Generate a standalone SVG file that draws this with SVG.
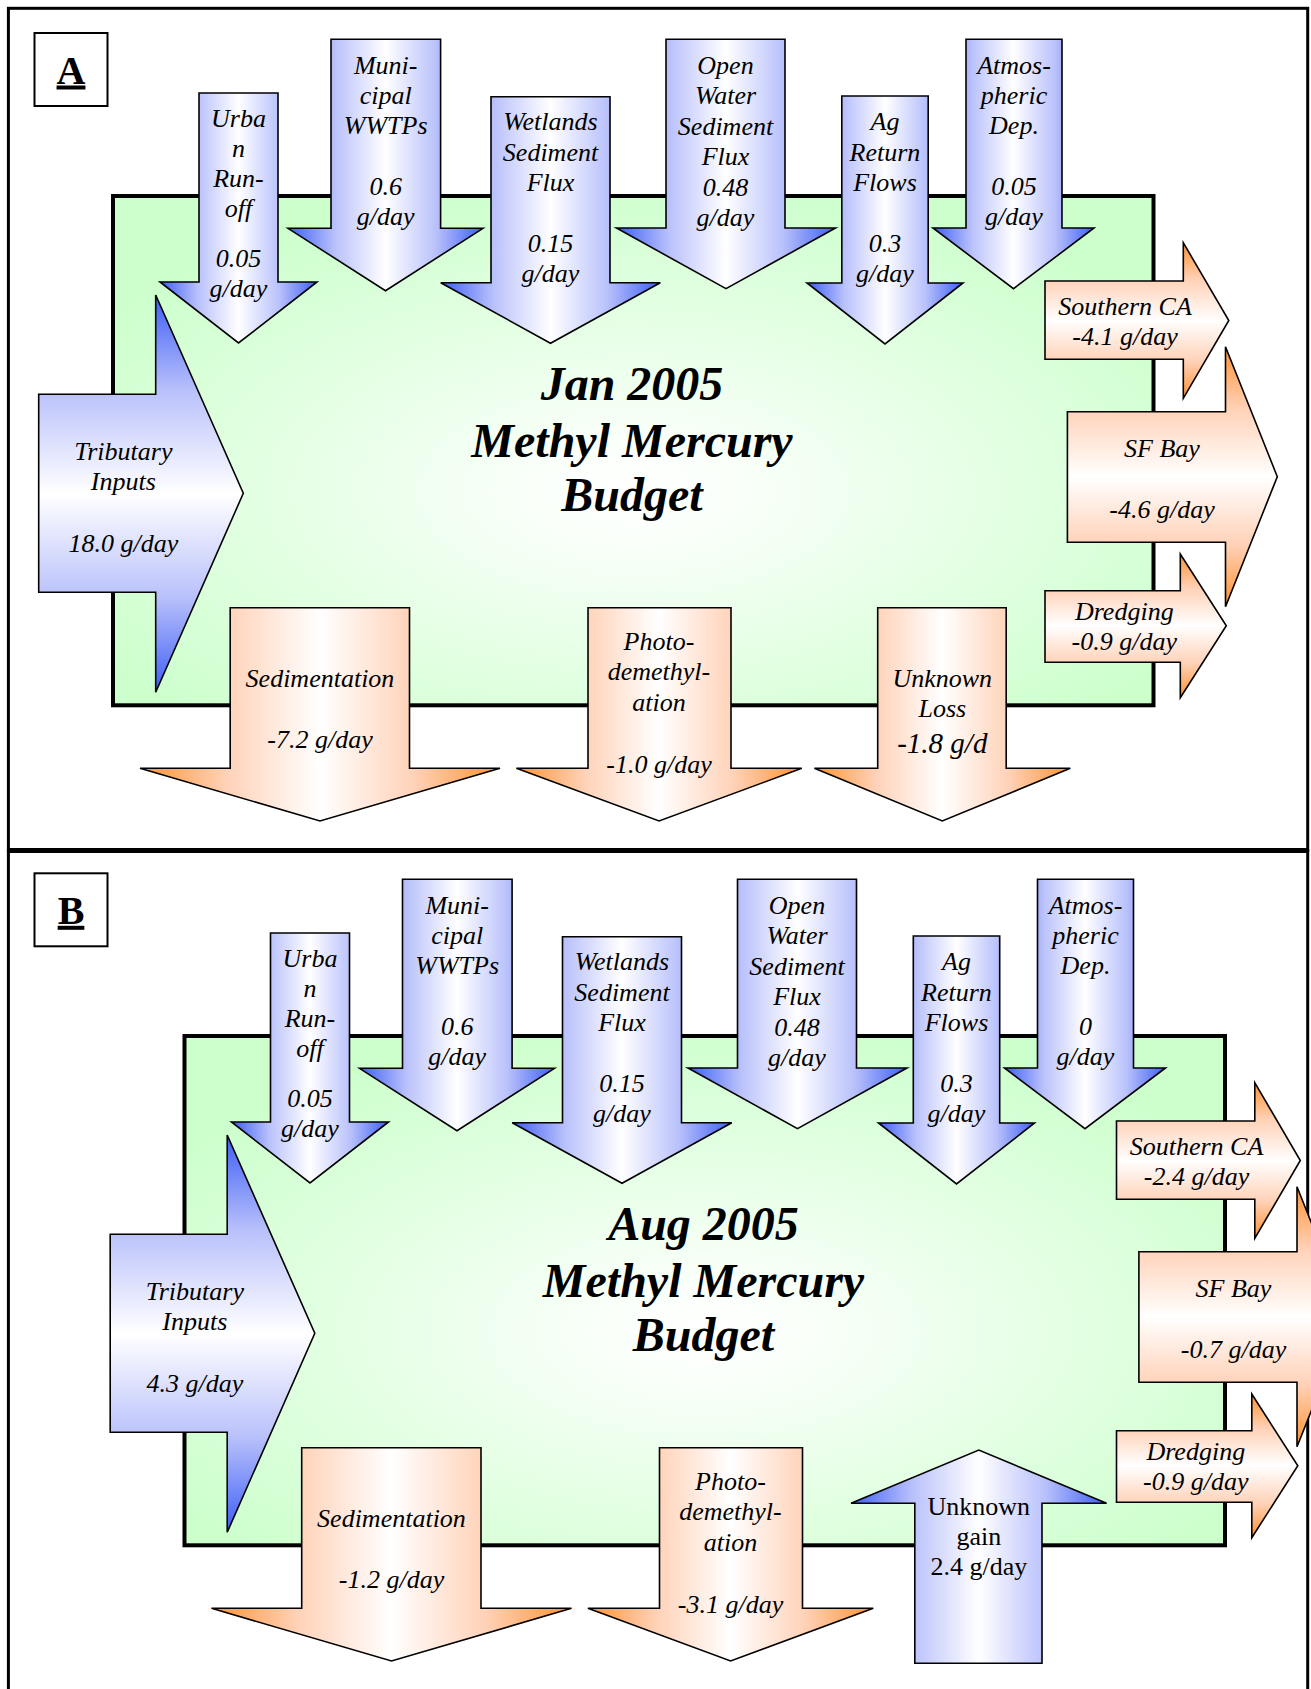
<svg xmlns="http://www.w3.org/2000/svg" width="1311" height="1689" viewBox="0 0 1311 1689">
<defs>
<linearGradient id="bH" x1="0" y1="0" x2="1" y2="0">
<stop offset="0" stop-color="#3d5ef5"/><stop offset="0.24" stop-color="#b9c1fb"/><stop offset="0.5" stop-color="#ffffff"/><stop offset="0.76" stop-color="#b9c1fb"/><stop offset="1" stop-color="#3d5ef5"/>
</linearGradient>
<linearGradient id="bV" x1="0" y1="0" x2="0" y2="1">
<stop offset="0" stop-color="#3d5ef5"/><stop offset="0.24" stop-color="#b9c1fb"/><stop offset="0.5" stop-color="#ffffff"/><stop offset="0.76" stop-color="#b9c1fb"/><stop offset="1" stop-color="#3d5ef5"/>
</linearGradient>
<linearGradient id="oH" x1="0" y1="0" x2="1" y2="0">
<stop offset="0" stop-color="#ff9233"/><stop offset="0.24" stop-color="#ffd2b8"/><stop offset="0.5" stop-color="#ffffff"/><stop offset="0.76" stop-color="#ffd2b8"/><stop offset="1" stop-color="#ff9233"/>
</linearGradient>
<linearGradient id="oV" x1="0" y1="0" x2="0" y2="1">
<stop offset="0" stop-color="#ff9233"/><stop offset="0.24" stop-color="#ffd2b8"/><stop offset="0.5" stop-color="#ffffff"/><stop offset="0.76" stop-color="#ffd2b8"/><stop offset="1" stop-color="#ff9233"/>
</linearGradient>
<radialGradient id="gR" cx="0.5" cy="0.58" r="0.62">
<stop offset="0" stop-color="#ffffff"/><stop offset="0.15" stop-color="#fafffa"/><stop offset="1" stop-color="#ccffcc"/>
</radialGradient>
<style>
.frame{fill:none;stroke:#000;stroke-width:3}
.lbl{fill:#fff;stroke:#000;stroke-width:2}
.lt{font-family:"Liberation Serif","Times New Roman",serif;font-weight:bold;font-size:40px;text-anchor:middle;text-decoration:underline}
.pool{fill:url(#gR);stroke:#000;stroke-width:4}
.ar{stroke:#000;stroke-width:1.6;stroke-linejoin:miter}
.bh{fill:url(#bH)}.bv{fill:url(#bV)}.oh{fill:url(#oH)}.ov{fill:url(#oV)}
.t{font-family:"Liberation Serif","Times New Roman",serif;font-style:italic;font-size:26px;text-anchor:middle;fill:#000}
.big{font-size:29px}
.up{font-style:normal}
.title{font-family:"Liberation Serif","Times New Roman",serif;font-style:italic;font-weight:bold;font-size:48px;text-anchor:middle;fill:#000}
</style>
</defs>
<rect width="1311" height="1689" fill="#fff"/>
<g id="frames">
<rect class="frame" x="8.4" y="8.3" width="1299.3" height="842"/>
<rect class="frame" x="8.4" y="850.5" width="1299.3" height="900"/>
<line x1="7" y1="850.5" x2="1309" y2="850.5" stroke="#000" stroke-width="5"/>
</g>
<g id="labelA"><rect class="lbl" x="34.5" y="33" width="73" height="73"/><text class="lt" x="71" y="83.5">A</text></g>
<g id="labelB"><rect class="lbl" x="34.5" y="873.3" width="73" height="73"/><text class="lt" x="71" y="923.8">B</text></g>

<g id="panelA">
<g id="poolA"><rect class="pool" x="113" y="196" width="1040.5" height="509.3"/>
<text class="title"><tspan x="632" y="400">Jan 2005</tspan><tspan x="632" y="456.5">Methyl Mercury</tspan><tspan x="632" y="511">Budget</tspan></text></g>
<g id="A-urban"><polygon class="ar bh" points="199,93 278,93 278,282 317,282 238.5,343 160,282 199,282"/>
<text class="t"><tspan x="238.5" y="127">Urba</tspan><tspan x="238.5" y="157">n</tspan><tspan x="238.5" y="187">Run-</tspan><tspan x="238.5" y="217">off</tspan><tspan x="238.5" y="267">0.05</tspan><tspan x="238.5" y="297">g/day</tspan></text></g>
<g id="A-municipal"><polygon class="ar bh" points="331,39.3 440.6,39.3 440.6,228.3 483,228.3 385.5,290.7 288,228.3 331,228.3"/>
<text class="t"><tspan x="385.7" y="73.5">Muni-</tspan><tspan x="385.7" y="103.5">cipal</tspan><tspan x="385.7" y="133.5">WWTPs</tspan><tspan x="385.7" y="194.5">0.6</tspan><tspan x="385.7" y="224.5">g/day</tspan></text></g>
<g id="A-wetlands"><polygon class="ar bh" points="491,96.7 610,96.7 610,282.7 660.3,282.7 550.5,343.3 440.7,282.7 491,282.7"/>
<text class="t"><tspan x="550.5" y="130">Wetlands</tspan><tspan x="550.5" y="160.5">Sediment</tspan><tspan x="550.5" y="191">Flux</tspan><tspan x="550.5" y="251.5">0.15</tspan><tspan x="550.5" y="281.5">g/day</tspan></text></g>
<g id="A-openwater"><polygon class="ar bh" points="666,39.3 785,39.3 785,228 835.5,228 726,288.7 616.5,228 666,228"/>
<text class="t"><tspan x="725.5" y="73.5">Open</tspan><tspan x="725.5" y="103.5">Water</tspan><tspan x="725.5" y="134.5">Sediment</tspan><tspan x="725.5" y="164.5">Flux</tspan><tspan x="725.5" y="195.5">0.48</tspan><tspan x="725.5" y="225.5">g/day</tspan></text></g>
<g id="A-ag"><polygon class="ar bh" points="841.8,96 928.2,96 928.2,283 963,283 885,344 807,283 841.8,283"/>
<text class="t"><tspan x="885" y="130">Ag</tspan><tspan x="885" y="160.5">Return</tspan><tspan x="885" y="190.5">Flows</tspan><tspan x="885" y="252">0.3</tspan><tspan x="885" y="281.5">g/day</tspan></text></g>
<g id="A-atmos"><polygon class="ar bh" points="966,39.3 1062,39.3 1062,228 1094,228 1013.5,288.7 933,228 966,228"/>
<text class="t"><tspan x="1014" y="73.5">Atmos-</tspan><tspan x="1014" y="103.5">pheric</tspan><tspan x="1014" y="133.5">Dep.</tspan><tspan x="1014" y="194.5">0.05</tspan><tspan x="1014" y="224.5">g/day</tspan></text></g>
<g id="A-tributary"><polygon class="ar bv" points="38.7,394.3 155.7,394.3 155.7,295 243.3,493.3 155.7,692.3 155.7,592.3 38.7,592.3"/>
<text class="t"><tspan x="123.3" y="460">Tributary</tspan><tspan x="123.3" y="490">Inputs</tspan><tspan x="123.3" y="551.7">18.0 g/day</tspan></text></g>
<g id="A-southernca"><polygon class="ar ov" points="1045,281 1183.3,281 1183.3,242.7 1228.8,320.5 1183.3,398.3 1183.3,359.3 1045,359.3"/>
<text class="t"><tspan x="1125" y="315">Southern CA</tspan><tspan x="1125" y="345">-4.1 g/day</tspan></text></g>
<g id="A-sfbay"><polygon class="ar ov" points="1067.4,411.7 1225.5,411.7 1225.5,346.7 1277.3,476.7 1225.5,606.7 1225.5,542.3 1067.4,542.3"/>
<text class="t"><tspan x="1162" y="456.7">SF Bay</tspan><tspan x="1162" y="518.3">-4.6 g/day</tspan></text></g>
<g id="A-dredging"><polygon class="ar ov" points="1045,590.7 1180.3,590.7 1180.3,554 1226.3,625.8 1180.3,697.7 1180.3,662.3 1045,662.3"/>
<text class="t"><tspan x="1124.3" y="620">Dredging</tspan><tspan x="1124.3" y="650">-0.9 g/day</tspan></text></g>
<g id="A-sedimentation"><polygon class="ar oh" points="230.2,607.7 409.5,607.7 409.5,768.3 500,768.3 320,821 140,768.3 230.2,768.3"/>
<text class="t"><tspan x="320" y="687.3">Sedimentation</tspan><tspan x="320" y="748.3">-7.2 g/day</tspan></text></g>
<g id="A-photo"><polygon class="ar oh" points="588,607.7 731,607.7 731,768.3 801.8,768.3 659.1,821 516.4,768.3 588,768.3"/>
<text class="t"><tspan x="659" y="650">Photo-</tspan><tspan x="659" y="680">demethyl-</tspan><tspan x="659" y="710.7">ation</tspan><tspan x="659" y="773.3">-1.0 g/day</tspan></text></g>
<g id="A-unknownloss"><polygon class="ar oh" points="877.7,607.7 1006.2,607.7 1006.2,768.3 1070.3,768.3 942.3,821 814.4,768.3 877.7,768.3"/>
<text class="t"><tspan x="942.3" y="687.3">Unknown</tspan><tspan x="942.3" y="717.3">Loss</tspan><tspan class="big" x="942.3" y="753.3">-1.8 g/d</tspan></text></g>
</g>

<g id="panelB" transform="translate(71.5,840)">
<g id="poolB"><rect class="pool" x="113" y="196" width="1040.5" height="509.3"/>
<text class="title"><tspan x="632" y="400">Aug 2005</tspan><tspan x="632" y="456.5">Methyl Mercury</tspan><tspan x="632" y="511">Budget</tspan></text></g>
<g id="B-urban"><polygon class="ar bh" points="199,93 278,93 278,282 317,282 238.5,343 160,282 199,282"/>
<text class="t"><tspan x="238.5" y="127">Urba</tspan><tspan x="238.5" y="157">n</tspan><tspan x="238.5" y="187">Run-</tspan><tspan x="238.5" y="217">off</tspan><tspan x="238.5" y="267">0.05</tspan><tspan x="238.5" y="297">g/day</tspan></text></g>
<g id="B-municipal"><polygon class="ar bh" points="331,39.3 440.6,39.3 440.6,228.3 483,228.3 385.5,290.7 288,228.3 331,228.3"/>
<text class="t"><tspan x="385.7" y="73.5">Muni-</tspan><tspan x="385.7" y="103.5">cipal</tspan><tspan x="385.7" y="133.5">WWTPs</tspan><tspan x="385.7" y="194.5">0.6</tspan><tspan x="385.7" y="224.5">g/day</tspan></text></g>
<g id="B-wetlands"><polygon class="ar bh" points="491,96.7 610,96.7 610,282.7 660.3,282.7 550.5,343.3 440.7,282.7 491,282.7"/>
<text class="t"><tspan x="550.5" y="130">Wetlands</tspan><tspan x="550.5" y="160.5">Sediment</tspan><tspan x="550.5" y="191">Flux</tspan><tspan x="550.5" y="251.5">0.15</tspan><tspan x="550.5" y="281.5">g/day</tspan></text></g>
<g id="B-openwater"><polygon class="ar bh" points="666,39.3 785,39.3 785,228 835.5,228 726,288.7 616.5,228 666,228"/>
<text class="t"><tspan x="725.5" y="73.5">Open</tspan><tspan x="725.5" y="103.5">Water</tspan><tspan x="725.5" y="134.5">Sediment</tspan><tspan x="725.5" y="164.5">Flux</tspan><tspan x="725.5" y="195.5">0.48</tspan><tspan x="725.5" y="225.5">g/day</tspan></text></g>
<g id="B-ag"><polygon class="ar bh" points="841.8,96 928.2,96 928.2,283 963,283 885,344 807,283 841.8,283"/>
<text class="t"><tspan x="885" y="130">Ag</tspan><tspan x="885" y="160.5">Return</tspan><tspan x="885" y="190.5">Flows</tspan><tspan x="885" y="252">0.3</tspan><tspan x="885" y="281.5">g/day</tspan></text></g>
<g id="B-atmos"><polygon class="ar bh" points="966,39.3 1062,39.3 1062,228 1094,228 1013.5,288.7 933,228 966,228"/>
<text class="t"><tspan x="1014" y="73.5">Atmos-</tspan><tspan x="1014" y="103.5">pheric</tspan><tspan x="1014" y="133.5">Dep.</tspan><tspan x="1014" y="194.5">0</tspan><tspan x="1014" y="224.5">g/day</tspan></text></g>
<g id="B-tributary"><polygon class="ar bv" points="38.7,394.3 155.7,394.3 155.7,295 243.3,493.3 155.7,692.3 155.7,592.3 38.7,592.3"/>
<text class="t"><tspan x="123.3" y="460">Tributary</tspan><tspan x="123.3" y="490">Inputs</tspan><tspan x="123.3" y="551.7">4.3 g/day</tspan></text></g>
<g id="B-southernca"><polygon class="ar ov" points="1045,281 1183.3,281 1183.3,242.7 1228.8,320.5 1183.3,398.3 1183.3,359.3 1045,359.3"/>
<text class="t"><tspan x="1125" y="315">Southern CA</tspan><tspan x="1125" y="345">-2.4 g/day</tspan></text></g>
<g id="B-sfbay"><polygon class="ar ov" points="1067.4,411.7 1225.5,411.7 1225.5,346.7 1277.3,476.7 1225.5,606.7 1225.5,542.3 1067.4,542.3"/>
<text class="t"><tspan x="1162" y="456.7">SF Bay</tspan><tspan x="1162" y="518.3">-0.7 g/day</tspan></text></g>
<g id="B-dredging"><polygon class="ar ov" points="1045,590.7 1180.3,590.7 1180.3,554 1226.3,625.8 1180.3,697.7 1180.3,662.3 1045,662.3"/>
<text class="t"><tspan x="1124.3" y="620">Dredging</tspan><tspan x="1124.3" y="650">-0.9 g/day</tspan></text></g>
<g id="B-sedimentation"><polygon class="ar oh" points="230.2,607.7 409.5,607.7 409.5,768.3 500,768.3 320,821 140,768.3 230.2,768.3"/>
<text class="t"><tspan x="320" y="687.3">Sedimentation</tspan><tspan x="320" y="748.3">-1.2 g/day</tspan></text></g>
<g id="B-photo"><polygon class="ar oh" points="588,607.7 731,607.7 731,768.3 801.8,768.3 659.1,821 516.4,768.3 588,768.3"/>
<text class="t"><tspan x="659" y="650">Photo-</tspan><tspan x="659" y="680">demethyl-</tspan><tspan x="659" y="710.7">ation</tspan><tspan x="659" y="773.3">-3.1 g/day</tspan></text></g>
<g id="B-unknowngain"><polygon class="ar bh" points="843.3,823.3 970.5,823.3 970.5,663.3 1035.1,663.3 907.3,610 779.5,663.3 843.3,663.3"/>
<text class="t up"><tspan x="907.3" y="675">Unknown</tspan><tspan x="907.3" y="705">gain</tspan><tspan x="907.3" y="735">2.4 g/day</tspan></text></g>
</g>
<g id="connectors"/>
</svg>
